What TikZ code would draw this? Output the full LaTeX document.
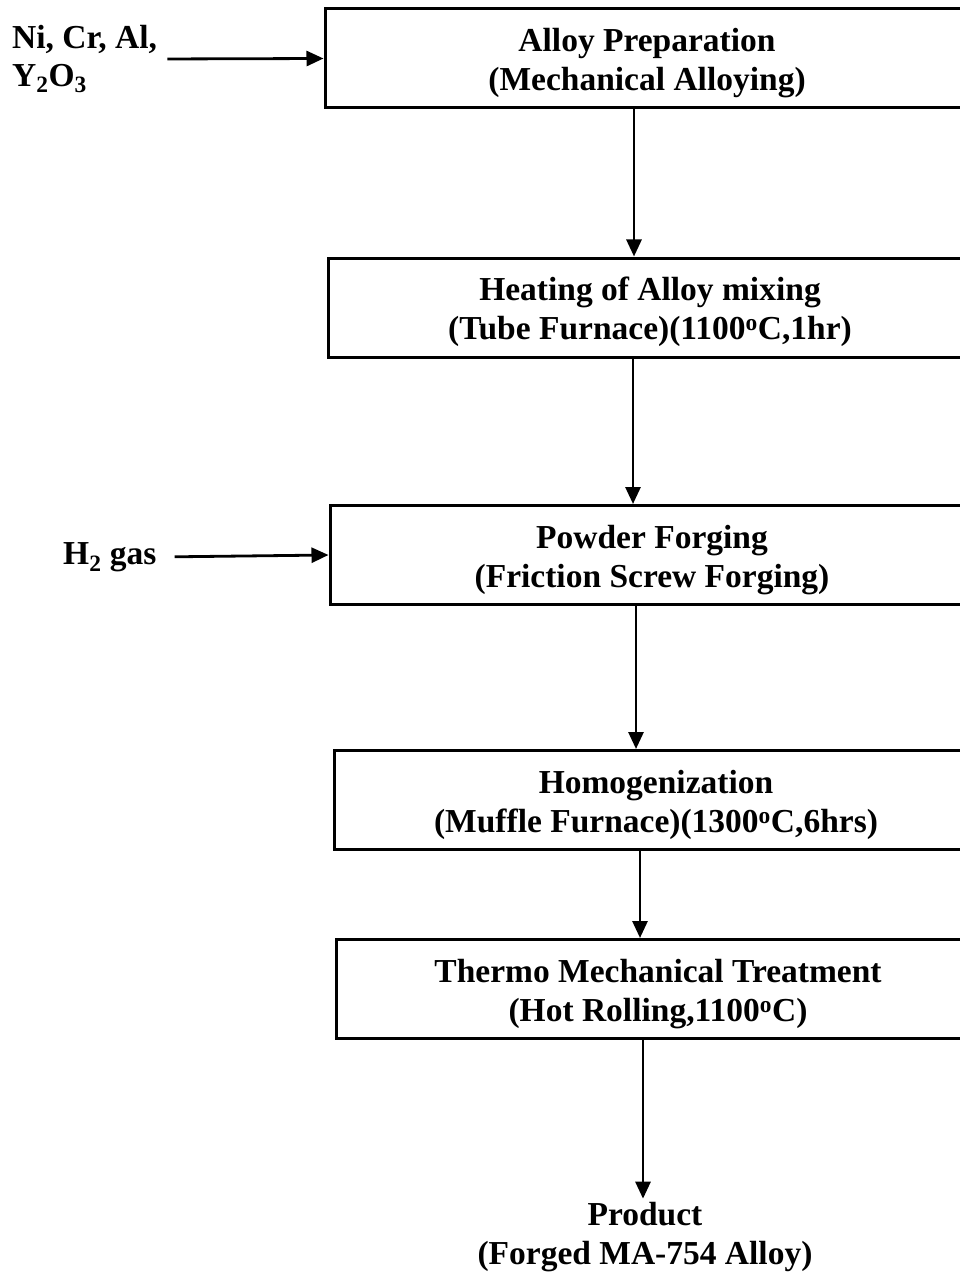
\documentclass[tikz,border=0pt]{standalone}
\usepackage{fontspec}
\setmainfont{Liberation Serif}
\usetikzlibrary{positioning, arrows.meta}
\newcommand{\topgap}{\rule{0pt}{33pt}}

\begin{document}
\begin{tikzpicture}[
    x=1pt, y=-1pt,
    stage/.style={rectangle, draw=black, line width=3pt, align=center, minimum width=644pt, minimum height=99pt, font=\fontsize{33.5}{39}\selectfont\bfseries},
    feed/.style={align=left, inner sep=2pt, font=\fontsize{33.5}{38}\selectfont\bfseries},
    arr/.style={-{Triangle[length=17pt,width=15pt]}, line width=2.8pt},
]
\useasboundingbox (0,0) rectangle (959,1273);

\node [stage] (prep) at (647,58.5) {\topgap Alloy Preparation\\(Mechanical Alloying)};
\node [stage] (heat) at (650,307.5) {\topgap Heating of Alloy mixing\\(Tube Furnace)(1100\textsuperscript{o}C,1hr)};
\node [stage] (forge) at (652,555) {\topgap Powder Forging\\(Friction Screw Forging)};
\node [stage] (homog) at (656,800) {\topgap Homogenization\\(Muffle Furnace)(1300\textsuperscript{o}C,6hrs)};
\node [stage] (tmt) at (658,989) {\topgap Thermo Mechanical Treatment\\(Hot Rolling,1100\textsuperscript{o}C)};
\node [align=center, font=\fontsize{33.5}{39}\selectfont\bfseries] (prod) at (645,1237) {Product\\(Forged MA-754 Alloy)};

\node [feed, anchor=west] (elem) at (10,59) {Ni, Cr, Al,\\Y\textsubscript{2}O\textsubscript{3}};
\node [feed, anchor=west] (gas) at (61,557) {H\textsubscript{2} gas};

\draw [arr, shorten <=8pt] (elem.east) -- (prep.west);
\draw [arr, shorten <=16pt] (gas.east) -- (forge.west);
\draw [arr] ([xshift=-13pt]prep.south) -- ([xshift=-16pt]heat.north);
\draw [arr] ([xshift=-17pt]heat.south) -- ([xshift=-19pt]forge.north);
\draw [arr] ([xshift=-16pt]forge.south) -- ([xshift=-20pt]homog.north);
\draw [arr] ([xshift=-16pt]homog.south) -- ([xshift=-18pt]tmt.north);
\draw [arr] ([xshift=-15pt]tmt.south) -- ([xshift=-2pt]prod.north);

\end{tikzpicture}
\end{document}
